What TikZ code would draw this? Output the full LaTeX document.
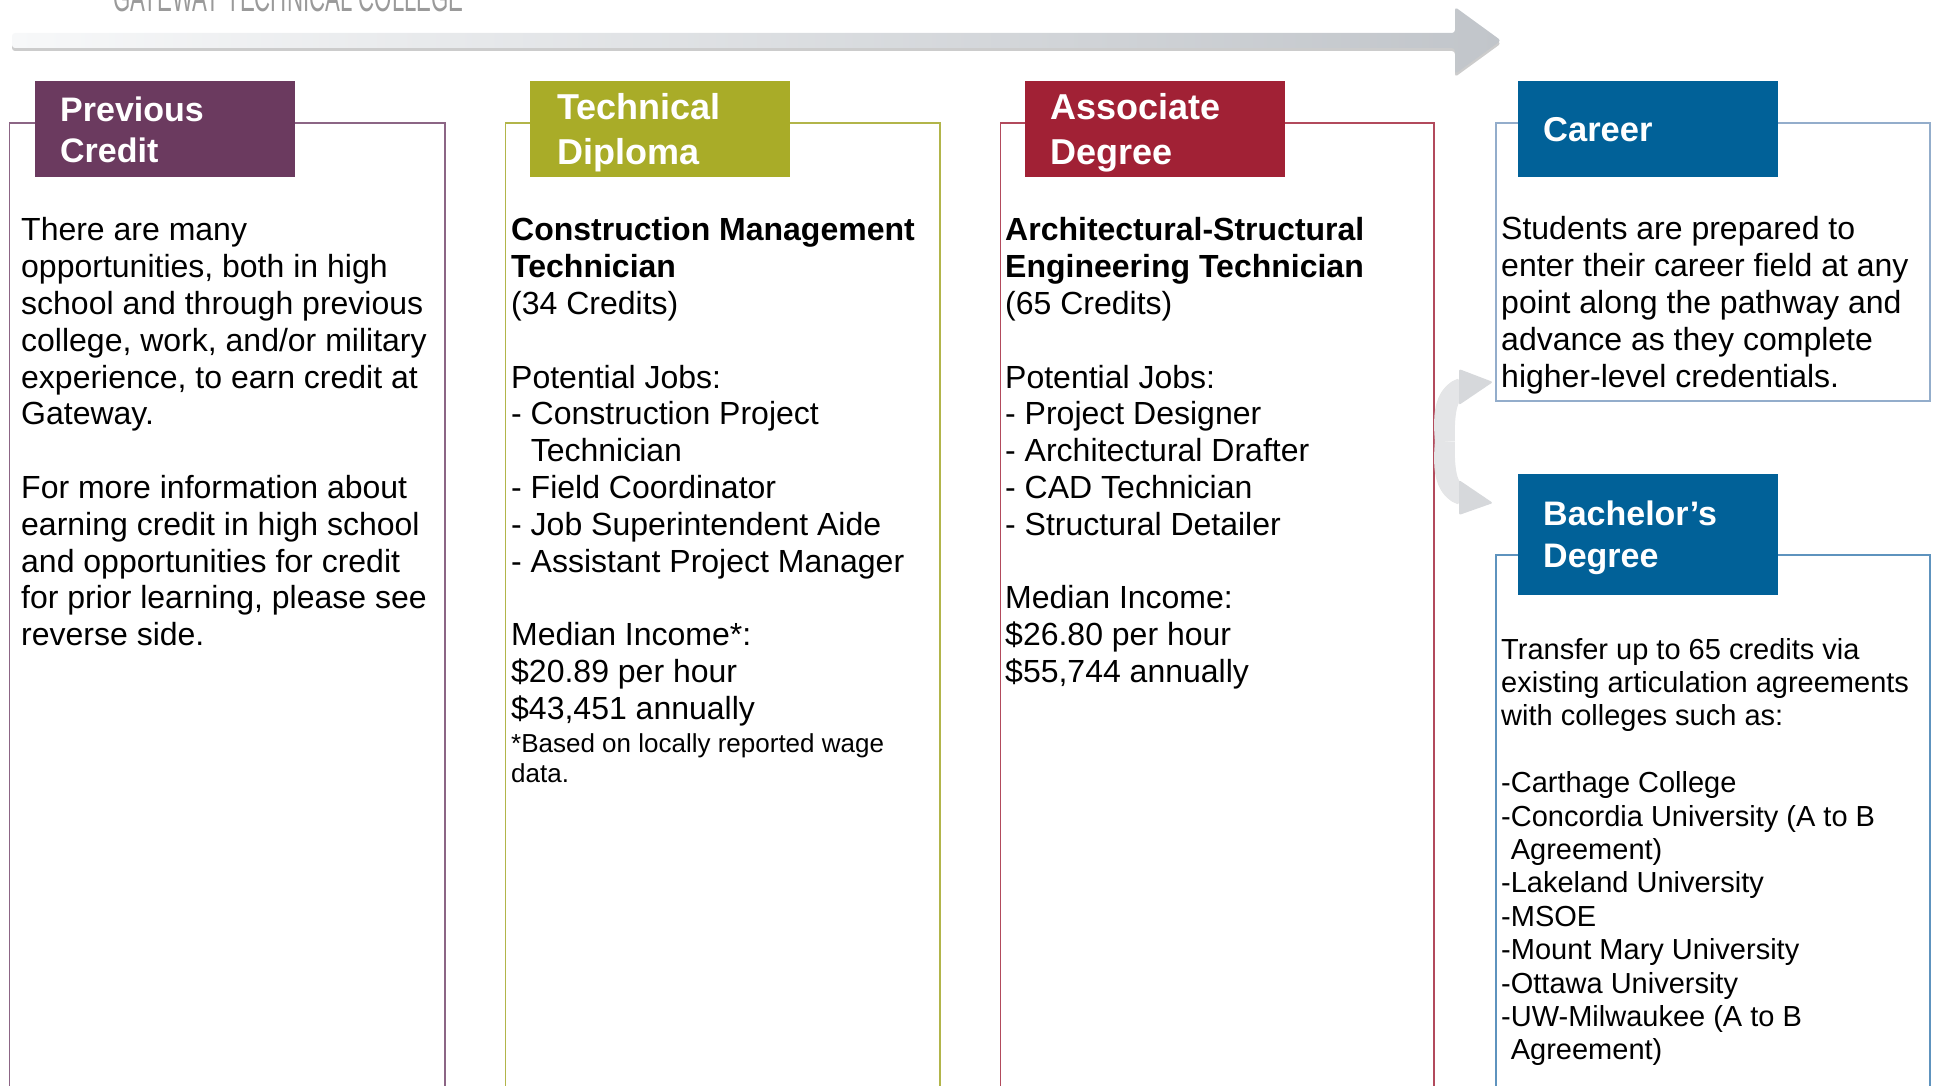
\documentclass[tikz,border=0pt]{standalone}
\usepackage{fontspec}
\setmainfont{Liberation Sans}
\usepackage{graphicx}
\definecolor{hPurple}{HTML}{6B3A5F}
\definecolor{hOlive}{HTML}{A9AC28}
\definecolor{hRed}{HTML}{A12135}
\definecolor{hBlue}{HTML}{016198}
\definecolor{lPurple}{HTML}{8C6585}
\definecolor{lOlive}{HTML}{B2B54A}
\definecolor{lRed}{HTML}{B24A5C}
\definecolor{lCareer}{HTML}{93ADCB}
\definecolor{lBach}{HTML}{5E93BE}
\definecolor{arrLight}{HTML}{F7F8F9}
\definecolor{arrDark}{HTML}{C1C5CA}
\definecolor{curveShaft}{HTML}{E4E5E7}
\definecolor{curveHead}{HTML}{D6D8DB}
\definecolor{brand}{HTML}{9A9A9A}
\begin{document}
\begin{tikzpicture}[x=1pt,y=-1pt,
  hdr/.style={rectangle, inner sep=0pt, minimum width=260pt, anchor=north west},
  htxt/.style={anchor=base west, inner sep=0pt, text=white},
  bodytxt/.style={anchor=base west, inner sep=0pt, font=\fontsize{32}{36.8}\selectfont},
  boxline/.style={line width=1.5pt},
  shaft/.style={draw=curveShaft, line width=20pt},
  head/.style={fill=curveHead, rounded corners=2pt}
]
\useasboundingbox (0,0) rectangle (1939,1086);
\clip (0,0) rectangle (1939,1086);

% brand text (clipped at top)
\node[anchor=base west, inner sep=0pt, text=brand, font=\fontsize{40}{40}\selectfont] (brandtxt) at (113,12)
  {\scalebox{0.556}[1]{GATEWAY TECHNICAL COLLEGE}};

% top progress arrow
\fill[black!20, shift={(0,3)}, rounded corners=3pt]
  (12,33) -- (1455,33) -- (1455,7) -- (1501,40.5) -- (1455,74) -- (1455,48) -- (12,48) -- cycle;
\shade[left color=arrLight, right color=arrDark, rounded corners=3pt]
  (12,33) -- (1455,33) -- (1455,7) -- (1501,40.5) -- (1455,74) -- (1455,48) -- (12,48) -- cycle;

% column frames
\draw[boxline, lPurple] (9.5,1095) |- (445,123) -- (445,1095);
\draw[boxline, lOlive] (505.5,1095) |- (940,123) -- (940,1095);
\draw[boxline, lRed] (1000.5,1095) |- (1434,123) -- (1434,1095);
\draw[boxline, lCareer] (1496,123) rectangle (1930,401);
\draw[boxline, lBach] (1496,1095) |- (1930,555) -- (1930,1095);

% headers
\node[hdr, fill=hPurple, minimum height=96pt] (h1) at (35,81) {};
\node[hdr, fill=hOlive, minimum height=96pt] (h2) at (530,81) {};
\node[hdr, fill=hRed, minimum height=96pt] (h3) at (1025,81) {};
\node[hdr, fill=hBlue, minimum height=96pt] (h4) at (1518,81) {};
\node[hdr, fill=hBlue, minimum height=121pt] (h5) at (1518,474) {};

\node[htxt, font=\bfseries\fontsize{34}{41}\selectfont] (h1t) at (60,122)
  {\parbox[t]{240pt}{Previous\\Credit}};
\node[htxt, font=\bfseries\fontsize{36}{45}\selectfont] (h2t) at (557,120)
  {\parbox[t]{240pt}{Technical\\Diploma}};
\node[htxt, font=\bfseries\fontsize{36}{45}\selectfont] (h3t) at (1050,120)
  {\parbox[t]{240pt}{Associate\\Degree}};
\node[htxt, font=\bfseries\fontsize{34.5}{40}\selectfont] (h4t) at (1543,142) {Career};
\node[htxt, font=\bfseries\fontsize{34}{42}\selectfont] (h5t) at (1543,525)
  {\parbox[t]{240pt}{Bachelor’s\\Degree}};

% body texts
\node[bodytxt] (c1) at (21,241) {\parbox[t]{430pt}{\raggedright
There are many\\
opportunities, both in high\\
school and through previous\\
college, work, and/or military\\
experience, to earn credit at\\
Gateway.\\
\mbox{}\\
For more information about\\
earning credit in high school\\
and opportunities for credit\\
for prior learning, please see\\
reverse side.}};

\node[bodytxt] (c2) at (511,241) {\parbox[t]{425pt}{\raggedright
\textbf{Construction Management}\\
\textbf{Technician}\\
(34 Credits)\\
\mbox{}\\
Potential Jobs:\\
- Construction Project\\
\phantom{- }Technician\\
- Field Coordinator\\
- Job Superintendent Aide\\
- Assistant Project Manager\\
\mbox{}\\
Median Income*:\\
\$20.89 per hour\\
\$43,451 annually}};

\node[anchor=base west, inner sep=0pt, font=\fontsize{26}{30}\selectfont] (c2note) at (511,752)
  {\parbox[t]{425pt}{\raggedright
*Based on locally reported wage\\
data.}};

\node[bodytxt] (c3) at (1005,241) {\parbox[t]{425pt}{\raggedright
\textbf{Architectural-Structural}\\
\textbf{Engineering Technician}\\
(65 Credits)\\
\mbox{}\\
Potential Jobs:\\
- Project Designer\\
- Architectural Drafter\\
- CAD Technician\\
- Structural Detailer\\
\mbox{}\\
Median Income:\\
\$26.80 per hour\\
\$55,744 annually}};

\node[bodytxt] (c4) at (1501,240) {\parbox[t]{428pt}{\raggedright
Students are prepared to\\
enter their career field at any\\
point along the pathway and\\
advance as they complete\\
higher-level credentials.}};

\node[anchor=base west, inner sep=0pt, font=\fontsize{29}{33.4}\selectfont] (c5) at (1501,659)
  {\parbox[t]{428pt}{\raggedright
Transfer up to 65 credits via\\
existing articulation agreements\\
with colleges such as:\\
\mbox{}\\
-Carthage College\\
-Concordia University (A to B\\
\phantom{-}Agreement)\\
-Lakeland University\\
-MSOE\\
-Mount Mary University\\
-Ottawa University\\
-UW-Milwaukee (A to B\\
\phantom{-}Agreement)}};

% curved split arrows
\coordinate (split) at (1445,441.5);
\coordinate (upEnd) at (1462,388);
\coordinate (dnEnd) at (1462,495);
\draw[shaft, draw=black!10, shift={(-2,2)}] (split) .. controls (1444,408) and (1448,392) .. (upEnd);
\draw[shaft, draw=black!10, shift={(-2,-2)}] (split) .. controls (1444,475) and (1448,491) .. (dnEnd);
\draw[shaft] (split) .. controls (1444,408) and (1448,392) .. (upEnd);
\draw[shaft] (split) .. controls (1444,475) and (1448,491) .. (dnEnd);
\fill[head] (1459,369) -- (1493,382) -- (1459,405) -- cycle;
\fill[head] (1459,480) -- (1493,503) -- (1459,515) -- cycle;
\end{tikzpicture}
\end{document}
